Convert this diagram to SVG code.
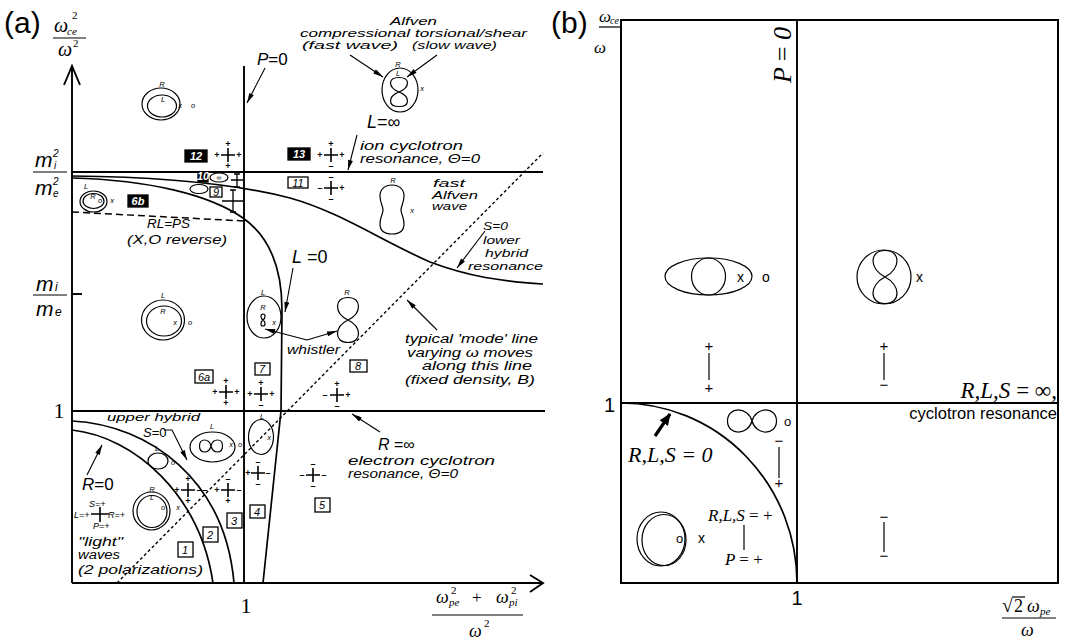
<svg xmlns="http://www.w3.org/2000/svg" width="1077" height="642" viewBox="0 0 1077 642">
<style>
.ln{stroke:#000;stroke-width:1.9;fill:none}
.cv{stroke:#000;stroke-width:1.7;fill:none}
.tn{stroke:#000;stroke-width:1.2;fill:none}
.ds{stroke:#000;stroke-width:1.4;fill:none;stroke-dasharray:3 2.5}
.dl{stroke:#000;stroke-width:1.5;fill:none;stroke-dasharray:7 4}
.ar{stroke:#000;stroke-width:1.1;fill:none;marker-end:url(#ah)}
.c{font-family:"Liberation Sans",Arial,sans-serif;font-style:italic;fill:#000}
.s7{font-family:"Liberation Sans",Arial,sans-serif;font-style:italic;font-size:7.5px;text-anchor:middle;fill:#000}
.sg{font-family:"Liberation Sans",Arial,sans-serif;font-weight:bold;font-size:9px;text-anchor:middle;fill:#000}
.bx{fill:#fff;stroke:#000;stroke-width:1.3}
.bk{fill:#000;stroke:#000;stroke-width:1.3}
.nb{font-family:"Liberation Sans",Arial,sans-serif;font-style:italic;font-size:11px;text-anchor:middle;fill:#000}
.nw{font-family:"Liberation Sans",Arial,sans-serif;font-style:italic;font-weight:bold;font-size:11px;text-anchor:middle;fill:#fff}
.sr{font-family:"Liberation Serif","Times New Roman",serif;font-style:italic;fill:#000}
.su{font-family:"Liberation Serif","Times New Roman",serif;fill:#000}
.sn{font-family:"Liberation Sans",Arial,sans-serif;fill:#000}
</style>
<defs>
<marker id="ah" markerUnits="userSpaceOnUse" viewBox="0 0 12 6" markerWidth="12" markerHeight="5" refX="12" refY="3" orient="auto"><path d="M0,0 L12,3 L0,6 Z" fill="#000"/></marker>
<marker id="ahb" markerUnits="userSpaceOnUse" viewBox="0 0 12 10" markerWidth="12" markerHeight="10" refX="11" refY="5" orient="auto"><path d="M0,0 L12,5 L0,10 Z" fill="#000"/></marker>
<path id="cr" d="M-7,0H7M0,-7V7" stroke="#000" stroke-width="1.6" fill="none"/>
</defs>
<rect width="1077" height="642" fill="#fff"/>

<!-- ===== Panel (a) ===== -->
<g id="a-axes">
<path class="ln" d="M72,583 V66 M64,85 L72,66 L80,85"/>
<path class="ln" d="M72,583 H543 M530,575 L543,583 L530,592"/>
<path class="ln" d="M244,66 V583"/>
<path class="ln" d="M72,172 H543"/>
<path class="ln" d="M72,411 H545"/>
<path class="ln" d="M72,294 H82"/>
<text class="sn" x="4" y="33" font-size="30">(a)</text>
<text class="sr" x="54" y="32" font-size="20">ω</text>
<text class="sr" x="67" y="35" font-size="11">ce</text>
<text class="su" x="72" y="19" font-size="11">2</text>
<path class="tn" d="M53,38 H86"/>
<text class="sr" x="58" y="56" font-size="20">ω</text>
<text class="su" x="73" y="47" font-size="11">2</text>
<text class="c" x="35" y="167" font-size="21">m</text>
<text class="c" x="53" y="157" font-size="10">2</text>
<text class="c" x="54" y="169" font-size="10">i</text>
<path class="tn" d="M33,172 H67"/>
<text class="c" x="35" y="195" font-size="21">m</text>
<text class="c" x="53" y="185" font-size="10">2</text>
<text class="c" x="53" y="197" font-size="10">e</text>
<text class="c" x="36" y="291" font-size="21">m</text>
<text class="c" x="55" y="291" font-size="12">i</text>
<path class="tn" d="M33,295 H67"/>
<text class="c" x="36" y="316" font-size="21">m</text>
<text class="c" x="55" y="316" font-size="12">e</text>
<text class="su" x="59" y="418" font-size="22" text-anchor="middle">1</text>
<text class="su" x="246" y="613" font-size="22" text-anchor="middle">1</text>
<text class="sr" x="436" y="603" font-size="18">ω</text>
<text class="sr" x="449" y="606" font-size="11">pe</text>
<text class="su" x="451" y="594" font-size="11">2</text>
<text class="su" x="472" y="603" font-size="17">+</text>
<text class="sr" x="496" y="603" font-size="18">ω</text>
<text class="sr" x="509" y="606" font-size="11">pi</text>
<text class="su" x="511" y="594" font-size="11">2</text>
<path class="tn" d="M432,615 H523"/>
<text class="sr" x="469" y="637" font-size="18">ω</text>
<text class="su" x="484" y="627" font-size="11">2</text>
</g>

<g id="a-curves">
<path class="cv" d="M72,176 C170,177 240,185 290,198 C340,212 380,240 430,262 C470,277 500,281 543,284"/>
<path class="cv" d="M72,178 C150,180 210,195 243,218 C270,237 282,270 282,310 L281,411 L263,583"/>
<path class="cv" d="M72,421 C150,425 225,480 234,583"/>
<path class="cv" d="M72,430 C135,437 200,495 213,583"/>
<path class="dl" d="M72,212 L244,221"/>
<path class="ds" d="M117,583 L543,153"/>
</g>

<g id="connectors">
<path class="ar" d="M265,68 L247,103"/>
<path class="ar" d="M357,135 L348,170"/>
<path class="ar" d="M350,55 L383,77"/>
<path class="ar" d="M437,55 L407,77"/>
<path class="ar" d="M293,268 L285,312"/>
<path class="ar" d="M485,231 L457,268"/>
<path class="ar" d="M437,330 L407,300"/>
<path class="ar" d="M307,340 L265,329"/>
<path class="ar" d="M307,340 L337,331"/>
<path class="ar" d="M164,430 L172,430 L187,460"/>
<path class="ar" d="M87,475 L102,445"/>
<path class="ar" d="M380,432 L352,414"/>
<path d="M655,436 L670,414" stroke="#000" stroke-width="3.2" fill="none" marker-end="url(#ahb)"/>
</g>

<g id="a-labels">
<text class="c" x="390" y="25" font-size="11" textLength="47" lengthAdjust="spacingAndGlyphs">Alfven</text>
<text class="c" x="300" y="37" font-size="11" textLength="227" lengthAdjust="spacingAndGlyphs">compressional torsional/shear</text>
<text class="c" x="302" y="49" font-size="11" textLength="96" lengthAdjust="spacingAndGlyphs">(fast wave)</text>
<text class="c" x="412" y="49" font-size="11" textLength="85" lengthAdjust="spacingAndGlyphs">(slow wave)</text>
<text class="sn" x="257" y="65" font-size="17"><tspan font-style="italic">P</tspan>=0</text>
<text class="sn" x="367" y="128" font-size="18"><tspan font-style="italic">L</tspan>=∞</text>
<text class="c" x="360" y="150" font-size="12" textLength="103" lengthAdjust="spacingAndGlyphs">ion cyclotron</text>
<text class="c" x="360" y="163" font-size="12" textLength="120" lengthAdjust="spacingAndGlyphs">resonance, Θ=0</text>
<text class="c" x="433" y="187" font-size="11" textLength="32" lengthAdjust="spacingAndGlyphs">fast</text>
<text class="c" x="432" y="199" font-size="11" textLength="46" lengthAdjust="spacingAndGlyphs">Alfven</text>
<text class="c" x="432" y="210" font-size="11" textLength="35" lengthAdjust="spacingAndGlyphs">wave</text>
<text class="c" x="147" y="228" font-size="12" textLength="43" lengthAdjust="spacingAndGlyphs">RL=PS</text>
<text class="c" x="127" y="244" font-size="12" textLength="100" lengthAdjust="spacingAndGlyphs">(X,O reverse)</text>
<text class="sn" x="292" y="263" font-size="18"><tspan font-style="italic">L</tspan> =0</text>
<text class="c" x="483" y="230" font-size="11" textLength="25" lengthAdjust="spacingAndGlyphs">S=0</text>
<text class="c" x="483" y="244" font-size="11" textLength="37" lengthAdjust="spacingAndGlyphs">lower</text>
<text class="c" x="485" y="257" font-size="11" textLength="43" lengthAdjust="spacingAndGlyphs">hybrid</text>
<text class="c" x="468" y="270" font-size="11" textLength="75" lengthAdjust="spacingAndGlyphs">resonance</text>
<text class="c" x="287" y="354" font-size="12" textLength="53" lengthAdjust="spacingAndGlyphs">whistler</text>
<text class="c" x="405" y="343" font-size="12" textLength="133" lengthAdjust="spacingAndGlyphs">typical 'mode' line</text>
<text class="c" x="407" y="357" font-size="12" textLength="126" lengthAdjust="spacingAndGlyphs">varying ω moves</text>
<text class="c" x="422" y="370" font-size="12" textLength="110" lengthAdjust="spacingAndGlyphs">along this line</text>
<text class="c" x="405" y="384" font-size="12" textLength="130" lengthAdjust="spacingAndGlyphs">(fixed density, B)</text>
<text class="c" x="107" y="421" font-size="11.5" textLength="93" lengthAdjust="spacingAndGlyphs">upper hybrid</text>
<text class="sn" x="143" y="437" font-size="13"><tspan font-style="italic">S</tspan>=0</text>
<text class="sn" x="82" y="490" font-size="17"><tspan font-style="italic">R</tspan>=0</text>
<text class="c" x="89" y="507" font-size="9">S=+</text>
<text class="c" x="74" y="518" font-size="9">L=+</text>
<text class="c" x="108" y="518" font-size="9">R=+</text>
<text class="c" x="93" y="529" font-size="9">P=+</text>
<text class="c" x="78" y="546" font-size="12" textLength="45" lengthAdjust="spacingAndGlyphs">"light"</text>
<text class="c" x="78" y="559" font-size="12" textLength="42" lengthAdjust="spacingAndGlyphs">waves</text>
<text class="c" x="78" y="574" font-size="12" textLength="125" lengthAdjust="spacingAndGlyphs">(2 polarizations)</text>
<text class="sn" x="378" y="450" font-size="16"><tspan font-style="italic">R</tspan> =∞</text>
<text class="c" x="348" y="465" font-size="12" textLength="147" lengthAdjust="spacingAndGlyphs">electron cyclotron</text>
<text class="c" x="348" y="478" font-size="12" textLength="110" lengthAdjust="spacingAndGlyphs">resonance, Θ=0</text>
</g>

<g id="region-boxes">
<rect class="bk" x="185" y="150" width="22" height="12"/><text class="nw" x="196" y="160">12</text>
<rect class="bk" x="288" y="148" width="22" height="12"/><text class="nw" x="299" y="158">13</text>
<rect class="bx" x="288" y="177" width="20" height="11"/><text class="nb" x="298" y="187">11</text>
<rect class="bk" x="198" y="173" width="10" height="9"/><text class="nw" x="203" y="180" font-size="7">10</text>
<rect class="bx" x="210" y="187" width="12" height="10"/><text class="nb" x="216" y="196" font-size="10">9</text>
<rect class="bk" x="128" y="195" width="20" height="12"/><text class="nw" x="138" y="205">6b</text>
<rect class="bx" x="195" y="370" width="18" height="13"/><text class="nb" x="204" y="381">6a</text>
<rect class="bx" x="255" y="363" width="15" height="12"/><text class="nb" x="262" y="373">7</text>
<rect class="bx" x="350" y="360" width="17" height="12"/><text class="nb" x="358" y="370">8</text>
<rect class="bx" x="178" y="542" width="15" height="15"/><text class="nb" x="185" y="554">1</text>
<rect class="bx" x="203" y="527" width="15" height="15"/><text class="nb" x="210" y="539">2</text>
<rect class="bx" x="227" y="513" width="15" height="15"/><text class="nb" x="234" y="525">3</text>
<rect class="bx" x="250" y="505" width="15" height="13"/><text class="nb" x="257" y="516">4</text>
<rect class="bx" x="315" y="498" width="15" height="14"/><text class="nb" x="322" y="509">5</text>
</g>

<g id="crosses" class="sg">
<use href="#cr" x="228" y="155"/><text x="228" y="147">+</text><text x="228" y="169">+</text><text x="217" y="158">+</text><text x="239" y="158">+</text>
<use href="#cr" x="331" y="155"/><text x="331" y="147">+</text><text x="331" y="169">–</text><text x="320" y="158">+</text><text x="342" y="158">+</text>
<use href="#cr" x="331" y="188"/><text x="331" y="180">–</text><text x="331" y="202">–</text><text x="320" y="191">–</text><text x="342" y="191">+</text>
<use href="#cr" x="226" y="392"/><text x="226" y="384">+</text><text x="226" y="406">+</text><text x="215" y="395">+</text><text x="237" y="395">+</text>
<use href="#cr" x="261" y="394"/><text x="261" y="386">+</text><text x="261" y="408">–</text><text x="250" y="397">+</text><text x="272" y="397">+</text>
<use href="#cr" x="337" y="395"/><text x="337" y="387">+</text><text x="337" y="409">–</text><text x="325" y="398">–</text><text x="348" y="398">+</text>
<use href="#cr" x="188" y="490"/><text x="188" y="482">+</text><text x="188" y="504">+</text><text x="177" y="493">+</text><text x="199" y="493">–</text><text x="205" y="493">–</text>
<use href="#cr" x="228" y="490"/><text x="228" y="482">–</text><text x="228" y="504">+</text><text x="217" y="493">+</text><text x="239" y="493">–</text>
<use href="#cr" x="258" y="473"/><text x="258" y="465">–</text><text x="258" y="487">–</text><text x="248" y="476">+</text><text x="268" y="476">–</text>
<use href="#cr" x="313" y="475"/><text x="313" y="467">–</text><text x="313" y="489">–</text><text x="302" y="478">–</text><text x="324" y="478">–</text>
<path d="M100,507 V522 M91,514 H109" stroke="#000" stroke-width="1.6" fill="none"/>
<path d="M237,174 V187 M234,174 H240 M234,187 H240 M231,180 H243" stroke="#000" stroke-width="1.3" fill="none"/>
<path d="M233,190 V212 M230,190 H236 M230,212 H236 M222,201 H243" stroke="#000" stroke-width="1.3" fill="none"/>
</g>

<g id="a-polar-top">
<ellipse class="tn" cx="161" cy="104" rx="19" ry="16"/>
<ellipse class="tn" cx="162" cy="106" rx="14.5" ry="11"/>
<text class="s7" x="162" y="87">R</text><text class="s7" x="163" y="102">L</text><text class="s7" x="180" y="108">x</text><text class="s7" x="193" y="108">o</text>
</g>
<g id="a-polar-alfven">
<ellipse class="tn" cx="400" cy="90" rx="18" ry="22"/>
<path class="tn" d="M399,92 C410.3,87.65 410.3,77.5 399,77.5 C387.7,77.5 387.7,87.65 399,92 C410.3,96.35 410.3,106.5 399,106.5 C387.7,106.5 387.7,96.35 399,92Z"/>
<text class="s7" x="398" y="67">R</text><text class="s7" x="398" y="76">L</text><text class="s7" x="422" y="91">x</text>
</g>
<g id="a-polar-fast">
<path class="tn" d="M392,185 C399,185 404,189 404,196 C404,203 401,206 401,210 C401,214 404,217 404,224 C404,231 399,234 392,234 C385,234 380,231 380,224 C380,217 383,214 383,210 C383,206 380,203 380,196 C380,189 385,185 392,185Z"/>
<text class="s7" x="393" y="183">R</text><text class="s7" x="412" y="213">x</text>
</g>
<g id="a-polar-10-9">
<ellipse class="tn" cx="219" cy="177.5" rx="9" ry="4.5"/>
<text class="sn" x="219" y="180" font-size="7" text-anchor="middle">∞</text>
<ellipse class="tn" cx="199" cy="189" rx="9" ry="4.5"/>
</g>
<g id="a-polar-6b">
<ellipse class="tn" cx="93.5" cy="201.5" rx="13.5" ry="10.5"/>
<ellipse class="tn" cx="93.5" cy="201" rx="10.5" ry="7.5"/>
<text class="s7" x="86" y="189">L</text><text class="s7" x="93" y="199">R</text><text class="s7" x="100" y="203">o</text><text class="s7" x="112" y="203">x</text>
</g>
<g id="a-polar-6a">
<ellipse class="tn" cx="163" cy="320" rx="21.5" ry="20"/>
<ellipse class="tn" cx="164" cy="321" rx="17.5" ry="15"/>
<text class="s7" x="163" y="298">L</text><text class="s7" x="163" y="314">R</text><text class="s7" x="175" y="325">x</text><text class="s7" x="190" y="325">o</text>
</g>
<g id="a-polar-7">
<ellipse class="tn" cx="264" cy="317" rx="17" ry="21"/>
<path class="tn" d="M263,320 C265.7,318.2 265.7,314 263,314 C260.3,314 260.3,318.2 263,320 C265.7,321.8 265.7,326 263,326 C260.3,326 260.3,321.8 263,320Z"/>
<text class="s7" x="263" y="295">L</text><text class="s7" x="263" y="310">R</text><text class="s7" x="274" y="325">x</text>
</g>
<g id="a-polar-whistler">
<path class="tn" d="M348,320 C362,313.25 362,297.5 348,297.5 C334,297.5 334,313.25 348,320 C362,326.75 362,342.5 348,342.5 C334,342.5 334,326.75 348,320Z"/>
<text class="s7" x="347" y="295">R</text>
</g>
<g id="a-polar-3">
<ellipse class="tn" cx="212.5" cy="447" rx="22.5" ry="15"/>
<path class="tn" d="M211,446 C213,438 222.5,438 222.5,446 C222.5,454 213,454 211,446 C209,438 199.5,438 199.5,446 C199.5,454 209,454 211,446Z"/>
<text class="s7" x="212" y="429">L</text><text class="s7" x="231" y="447">x</text><text class="s7" x="240" y="447">o</text>
</g>
<g id="a-polar-2">
<ellipse class="tn" cx="158" cy="461" rx="10" ry="8"/>
<text class="s7" x="157" y="451">L</text><text class="s7" x="173" y="465">o</text>
</g>
<g id="a-polar-1">
<ellipse class="tn" cx="151.5" cy="511" rx="18.5" ry="19"/>
<ellipse class="tn" cx="152" cy="511.5" rx="15" ry="16"/>
<text class="s7" x="152" y="492">R</text><text class="s7" x="152" y="500">L</text><text class="s7" x="163" y="510">o</text><text class="s7" x="178" y="510">x</text>
</g>
<g id="a-polar-4">
<ellipse class="tn" cx="261" cy="437" rx="12.5" ry="17.5"/>
<text class="s7" x="262" y="419">L</text><text class="s7" x="269" y="440">x</text>
</g>

<!-- ===== Panel (b) ===== -->
<g id="b-frame">
<rect x="621" y="20" width="437" height="563" fill="none" stroke="#000" stroke-width="2"/>
<path class="ln" d="M797,20 V583 M621,403 H1058"/>
<path class="cv" d="M621,403 A176,180 0 0 1 797,583"/>
<text class="sn" x="551" y="33" font-size="30">(b)</text>
<text class="sr" x="599" y="22" font-size="17">ω</text>
<text class="sr" x="610" y="24" font-size="10">ce</text>
<path class="tn" d="M599,27 H621"/>
<text class="sr" x="594" y="53" font-size="17">ω</text>
<text class="sr" transform="translate(791,55) rotate(-90)" x="0" y="0" font-size="26" text-anchor="middle">P <tspan font-style="normal">=</tspan> 0</text>
<text class="sn" x="604" y="412" font-size="20">1</text>
<text class="sn" x="797" y="605" font-size="20" text-anchor="middle">1</text>
<text class="su" x="1002" y="612" font-size="20">√</text>
<path class="tn" d="M1013,597 H1025"/>
<text class="su" x="1014" y="612" font-size="18">2</text>
<text class="sr" x="1027" y="612" font-size="18">ω</text>
<text class="sr" x="1040" y="615" font-size="11">pe</text>
<path class="tn" d="M1002,618 H1056"/>
<text class="sr" x="1021" y="636" font-size="18">ω</text>
</g>
<g id="b-labels">
<text class="sr" x="1057" y="398" font-size="23" text-anchor="end">R,L,S <tspan font-style="normal">= ∞,</tspan></text>
<text class="sn" x="1057" y="419" font-size="16.5" text-anchor="end">cyclotron resonance</text>
<text class="sr" x="628" y="462" font-size="22">R,L,S = 0</text>
<text class="sr" x="708" y="521" font-size="17">R,L,S <tspan font-style="normal">= +</tspan></text>
<text class="sr" x="725" y="565" font-size="17">P <tspan font-style="normal">= +</tspan></text>
<path class="tn" d="M744,525 V550"/>
</g>
<g id="b-polar-ul">
<ellipse class="tn" cx="708.5" cy="276.5" rx="43.5" ry="18.5"/>
<ellipse class="tn" cx="708.5" cy="276.5" rx="17" ry="18.5"/>
<text class="sn" x="737" y="282" font-size="14">x</text>
<text class="sn" x="762" y="282" font-size="14">o</text>
<text class="sn" x="709" y="351" font-size="15" text-anchor="middle">+</text>
<path class="tn" d="M709,353 V380"/>
<text class="sn" x="709" y="393" font-size="15" text-anchor="middle">+</text>
</g>
<g id="b-polar-ur">
<circle class="tn" cx="884" cy="277" r="27"/>
<path class="tn" d="M885,277 C901,269 901,250.5 885,250.5 C869,250.5 869,269 885,277 C901,285 901,303.5 885,303.5 C869,303.5 869,285 885,277Z"/>
<text class="sn" x="916" y="282" font-size="14">x</text>
<text class="sn" x="884" y="351" font-size="15" text-anchor="middle">+</text>
<path class="tn" d="M884,353 V380"/>
<text class="sn" x="884" y="390" font-size="15" text-anchor="middle">−</text>
</g>
<g id="b-polar-ll">
<path class="tn" d="M752,421 C756,406.3 776.5,406.3 776.5,421 C776.5,435.7 756,435.7 752,421 C748,406.3 727.5,406.3 727.5,421 C727.5,435.7 748,435.7 752,421Z"/>
<text class="sn" x="784" y="426" font-size="13">o</text>
<text class="sn" x="779" y="446" font-size="15" text-anchor="middle">−</text>
<path class="tn" d="M779,447 V478"/>
<text class="sn" x="779" y="488" font-size="15" text-anchor="middle">+</text>
<ellipse class="tn" cx="661" cy="539" rx="24" ry="27"/>
<ellipse class="tn" cx="664" cy="540" rx="22" ry="25.5"/>
<text class="sn" x="676" y="543" font-size="13">o</text>
<text class="sn" x="698" y="543" font-size="14">x</text>
</g>
<g id="b-polar-lr">
<text class="sn" x="884" y="522" font-size="15" text-anchor="middle">−</text>
<path class="tn" d="M884,522 V552"/>
<text class="sn" x="884" y="561" font-size="15" text-anchor="middle">−</text>
</g>
</svg>
